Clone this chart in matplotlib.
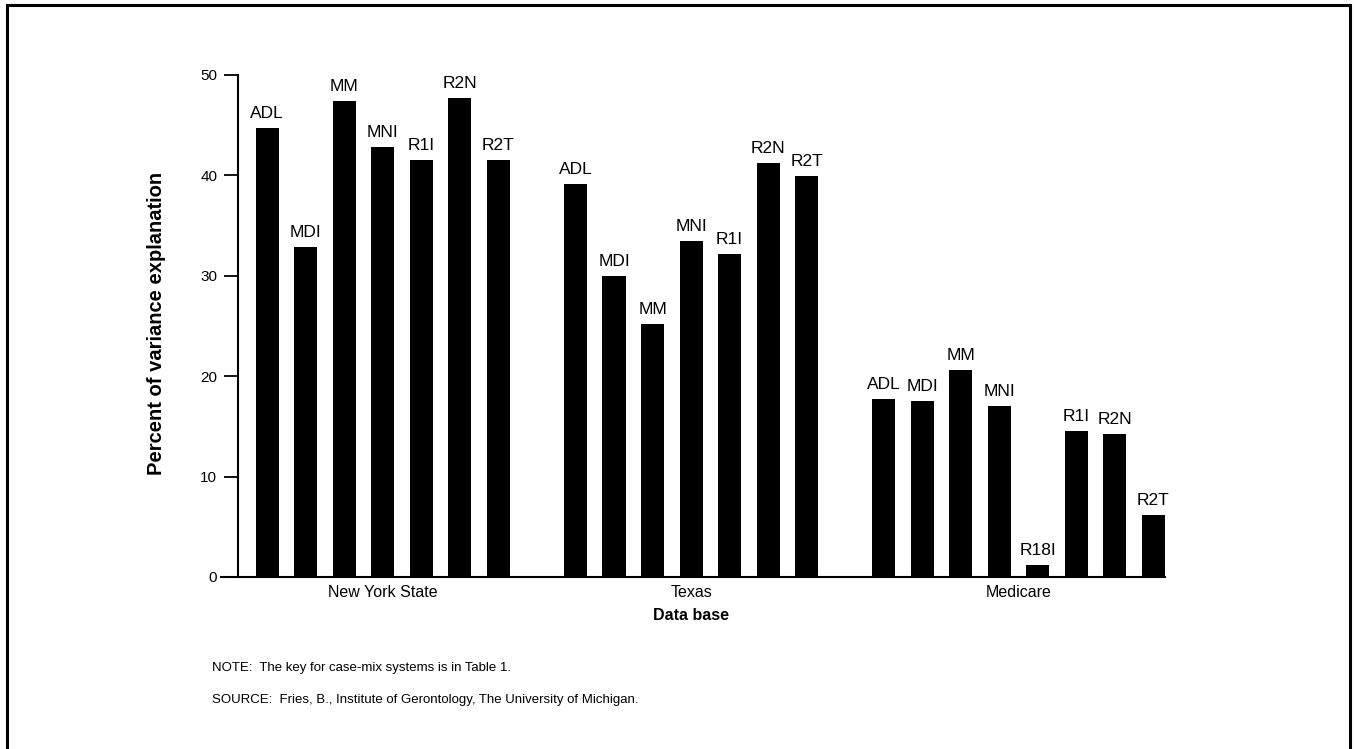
import matplotlib.pyplot as plt
from matplotlib.patches import Rectangle
import numpy as np

plt.rcParams['font.family'] = ['Liberation Sans', 'DejaVu Sans']

# data
databases = ['New York State', 'Texas', 'Medicare']
systems_ny = ['ADL', 'MDI', 'MM', 'MNI', 'R1I', 'R2N', 'R2T']
systems_tx = ['ADL', 'MDI', 'MM', 'MNI', 'R1I', 'R2N', 'R2T']
systems_mc = ['ADL', 'MDI', 'MM', 'MNI', 'R18I', 'R1I', 'R2N', 'R2T']
values_ny = [44.7, 32.9, 47.4, 42.8, 41.5, 47.7, 41.5]
values_tx = [39.1, 30.0, 25.2, 33.5, 32.2, 41.2, 39.9]
values_mc = [17.7, 17.5, 20.6, 17.0, 1.2, 14.5, 14.2, 6.2]

groups = [(systems_ny, values_ny), (systems_tx, values_tx), (systems_mc, values_mc)]

fig = plt.figure(figsize=(13.56, 7.49), dpi=100)
ax = fig.add_axes([238 / 1356, 1 - 577 / 749, (1165 - 238) / 1356, (577 - 75) / 749])

# lay the groups side by side with a gap of one empty slot
start = 0
centers = []
for names, vals in groups:
    x = start + np.arange(len(vals))
    ax.bar(x, vals, width=0.6, color='black')
    for xi, v, name in zip(x, vals, names):
        ax.annotate(name, (xi, v), xytext=(0, 5), textcoords='offset points',
                    ha='center', va='bottom', fontsize=12.5)
    centers.append(x.mean())
    start = x[-1] + 2

ax.set_xlim(-0.76, start - 2 + 0.3)
ax.set_ylim(0, 50)
ax.set_yticks(np.arange(0, 51, 10))
ax.set_xticks(centers)
ax.set_xticklabels(databases, fontsize=11.5)
ax.tick_params(axis='x', length=0, pad=6)
ax.tick_params(axis='y', direction='out', length=10, width=1.3, labelsize=11, pad=5)

for side in ['top', 'right']:
    ax.spines[side].set_visible(False)
ax.spines['left'].set_linewidth(1.5)
ax.spines['bottom'].set_linewidth(1.5)
ax.spines['bottom'].set_bounds(-1.2, start - 2 + 0.3)

ax.set_ylabel('Percent of variance explanation', fontsize=14.5, fontweight='bold')
ax.yaxis.set_label_coords(-0.078, 0.505)
ax.set_xlabel('Data base', fontsize=11.5, fontweight='bold')
ax.xaxis.set_label_coords(0.489, -0.062)

fig.text(212 / 1356, 1 - 668 / 749, 'NOTE:  The key for case-mix systems is in Table 1.',
         fontsize=9.5, va='center')
fig.text(212 / 1356, 1 - 700 / 749,
         'SOURCE:  Fries, B., Institute of Gerontology, The University of Michigan.',
         fontsize=9.5, va='center')

# page frame (top, left, right)
fig.patches.append(Rectangle((7 / 1356, -0.02), (1350 - 7) / 1356, 1.02 - 5 / 749,
                             transform=fig.transFigure, fill=False,
                             edgecolor='black', linewidth=2.2))

fig.savefig('out.png', dpi=100)
